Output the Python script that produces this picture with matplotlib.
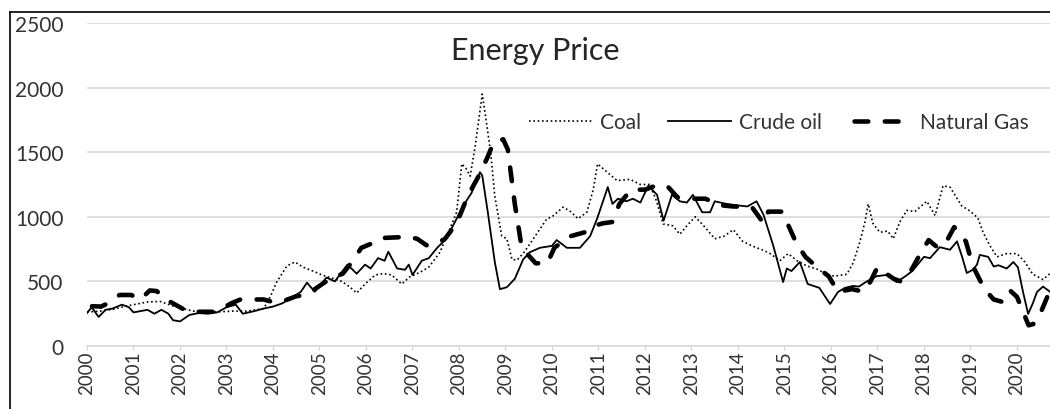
import matplotlib
matplotlib.use('Agg')
from matplotlib import pyplot as plt
from matplotlib.lines import Line2D

plt.rcParams['font.family'] = ['Lato', 'DejaVu Sans']

# ---- data (decimal year, price) ----
coal_t = [2000.0, 2000.28, 2000.57, 2000.86, 2001.29, 2001.57, 2001.85, 2002.28, 2002.5, 2002.86,
          2003.14, 2003.44, 2003.8, 2003.94, 2004.08, 2004.3, 2004.47, 2004.65, 2004.86, 2005.05,
          2005.27, 2005.48, 2005.66, 2005.8, 2005.98, 2006.2, 2006.37, 2006.55, 2006.77, 2006.94,
          2007.16, 2007.35, 2007.59, 2007.8, 2007.95, 2008.06, 2008.15, 2008.24, 2008.35, 2008.5,
          2008.6, 2008.68, 2008.77, 2008.92, 2009.03, 2009.14, 2009.25, 2009.4, 2009.6, 2009.89,
          2010.0, 2010.24, 2010.4, 2010.56, 2010.75, 2010.89, 2010.98, 2011.14, 2011.4, 2011.68,
          2011.9, 2012.1, 2012.25, 2012.39, 2012.6, 2012.75, 2012.9, 2013.08, 2013.29, 2013.5,
          2013.7, 2013.9, 2014.1, 2014.3, 2014.55, 2014.69, 2014.9, 2015.08, 2015.27, 2015.48,
          2015.7, 2015.9, 2016.08, 2016.34, 2016.48, 2016.62, 2016.73, 2016.8, 2016.9, 2017.05,
          2017.22, 2017.34, 2017.48, 2017.63, 2017.8, 2018.06, 2018.24, 2018.41, 2018.56, 2018.68,
          2018.81, 2018.99, 2019.16, 2019.27, 2019.42, 2019.57, 2019.78, 2020.0, 2020.17, 2020.34,
          2020.56, 2020.71]
coal_v = [263, 270, 285, 310, 340, 345, 310, 270, 265, 265,
          270, 270, 290, 380, 495, 620, 650, 610, 580, 550,
          525, 500, 455, 410, 480, 550, 560, 550, 480, 535,
          570, 610, 725, 905, 1035, 1410, 1375, 1315, 1550, 1950,
          1705, 1500, 1160, 850, 830, 670, 665, 725, 830, 985,
          1000, 1075, 1040, 985, 1035, 1215, 1410, 1360, 1280, 1290,
          1250, 1250, 1120, 945, 930, 865, 930, 1000, 920, 830,
          850, 900, 810, 775, 740, 715, 660, 715, 660, 620,
          595, 555, 540, 555, 645, 805, 960, 1100, 950, 880,
          890, 830, 960, 1050, 1040, 1120, 1010, 1240, 1230, 1160,
          1085, 1045, 990, 880, 775, 690, 715, 715, 650, 555,
          515, 560]

oil_t = [2000.0, 2000.1, 2000.25, 2000.4, 2000.55, 2000.75, 2000.9, 2001.0, 2001.15, 2001.3,
         2001.45, 2001.6, 2001.75, 2001.85, 2002.0, 2002.2, 2002.4, 2002.6, 2002.8, 2003.0,
         2003.2, 2003.35, 2003.6, 2003.8, 2004.0, 2004.2, 2004.43, 2004.6, 2004.73, 2004.9,
         2005.15, 2005.33, 2005.6, 2005.8, 2005.98, 2006.1, 2006.26, 2006.4, 2006.48, 2006.67,
         2006.84, 2006.92, 2007.0, 2007.2, 2007.35, 2007.53, 2007.7, 2007.87, 2008.09, 2008.27,
         2008.45, 2008.5, 2008.62, 2008.77, 2008.88, 2009.03, 2009.2, 2009.38, 2009.52, 2009.74,
         2010.0, 2010.1, 2010.32, 2010.6, 2010.82, 2010.97, 2011.2, 2011.3, 2011.42, 2011.6,
         2011.74, 2011.9, 2012.07, 2012.26, 2012.4, 2012.58, 2012.75, 2012.9, 2013.03, 2013.23,
         2013.4, 2013.5, 2013.75, 2013.95, 2014.2, 2014.4, 2014.55, 2014.76, 2014.97, 2015.05,
         2015.15, 2015.33, 2015.5, 2015.75, 2015.98, 2016.15, 2016.3, 2016.47, 2016.6, 2016.77,
         2016.98, 2017.2, 2017.41, 2017.6, 2017.75, 2017.91, 2018.0, 2018.13, 2018.34, 2018.56,
         2018.71, 2018.82, 2018.92, 2019.05, 2019.14, 2019.2, 2019.38, 2019.5, 2019.6, 2019.78,
         2019.92, 2020.02, 2020.13, 2020.24, 2020.34, 2020.43, 2020.56, 2020.71]
oil_v = [255, 300, 225, 280, 290, 320, 300, 260, 270, 280,
         250, 280, 250, 200, 190, 240, 255, 250, 260, 300,
         320, 250, 270, 290, 305, 330, 380, 420, 490, 420,
         530, 500, 630, 560, 630, 600, 680, 660, 730, 600,
         590, 630, 550, 660, 680, 760, 820, 930, 1085, 1185,
         1345, 1320, 1035, 650, 440, 455, 520, 670, 725, 760,
         775, 820, 760, 760, 850, 985, 1230, 1100, 1140, 1120,
         1140, 1110, 1240, 1170, 970, 1170, 1120, 1110, 1170, 1035,
         1035, 1120, 1100, 1090, 1080, 1120, 1015, 775, 495, 600,
         580, 650, 480, 450, 325, 418, 450, 465, 460, 500,
         540, 550, 495, 540, 580, 650, 690, 680, 765, 745,
         810, 690, 565, 590, 630, 705, 690, 615, 625, 600,
         650, 610, 418, 248, 330, 418, 460, 420]

gas_t = [2000.0, 2000.3, 2000.45, 2000.7, 2000.95, 2001.15, 2001.35, 2001.5, 2001.7, 2001.9,
         2002.1, 2002.3, 2002.7, 2002.9, 2003.1, 2003.3, 2003.5, 2003.8, 2004.0, 2004.2,
         2004.5, 2004.7, 2004.9, 2005.1, 2005.3, 2005.5, 2005.7, 2005.9, 2006.1, 2006.3,
         2006.6, 2006.9, 2007.1, 2007.3, 2007.5, 2007.7, 2007.95, 2008.2, 2008.4, 2008.6,
         2008.75, 2008.95, 2009.05, 2009.2, 2009.35, 2009.5, 2009.65, 2009.9, 2010.05, 2010.2,
         2010.4, 2010.7, 2010.9, 2011.1, 2011.3, 2011.45, 2011.7, 2012.0, 2012.3, 2012.5,
         2012.7, 2013.0, 2013.3, 2013.6, 2013.9, 2014.3, 2014.45, 2014.55, 2014.65, 2014.95,
         2015.1, 2015.25, 2015.45, 2015.7, 2015.95, 2016.15, 2016.45, 2016.7, 2016.85, 2017.0,
         2017.15, 2017.35, 2017.5, 2017.7, 2017.9, 2018.1, 2018.3, 2018.5, 2018.65, 2018.9,
         2019.05, 2019.3, 2019.5, 2019.7, 2019.85, 2020.0, 2020.25, 2020.35, 2020.5, 2020.71]
gas_v = [310, 305, 330, 395, 395, 360, 430, 425, 360, 320,
         280, 265, 265, 290, 330, 360, 360, 360, 340, 345,
         385, 395, 440, 490, 530, 560, 650, 760, 790, 835,
         840, 845, 830, 780, 790, 830, 950, 1170, 1300, 1450,
         1580, 1600, 1520, 1100, 760, 700, 640, 640, 760, 800,
         850, 880, 930, 950, 960, 1100, 1210, 1210, 1250, 1230,
         1150, 1140, 1140, 1090, 1080, 1075, 1000, 950, 1040, 1040,
         920, 800, 690, 610, 540, 420, 440, 420, 500, 610,
         570, 520, 500, 570, 700, 820, 760, 820, 920, 810,
         620, 440, 360, 340, 430, 380, 160, 170, 250, 430]

years = list(range(2000, 2021))
y_ticks = [0, 500, 1000, 1500, 2000, 2500]

fig = plt.figure(figsize=(10.5, 4.1), dpi=100)
ax = fig.add_axes([87 / 1050, 63 / 410, 1 - 87 / 1050, 323 / 410])

ax.plot(coal_t, coal_v, color='black', lw=1.2, linestyle=(0, (1, 1.6)), label='Coal')
ax.plot(oil_t, oil_v, color='black', lw=1.3, label='Crude oil')
ax.plot(gas_t, gas_v, color='black', lw=3.3, linestyle=(5.5, (3, 3.6)),
        dash_capstyle='round', label='Natural Gas')

ax.set_xlim(2000, 2020.71)
ax.set_ylim(0, 2500)
ax.set_yticks(y_ticks)
ax.set_xticks(years)
ax.set_xticklabels([str(y) for y in years], rotation=90)
ax.grid(axis='y', color='#d9d9d9', lw=1.2)
ax.set_axisbelow(True)
for s in ['top', 'right', 'left']:
    ax.spines[s].set_visible(False)
ax.spines['bottom'].set_color('#d9d9d9')
ax.spines['bottom'].set_linewidth(1.2)
ax.tick_params(axis='y', length=0, pad=17, labelsize=15, labelcolor='#333333')
ax.tick_params(axis='x', length=3, width=1, color='#d9d9d9', pad=0, labelsize=13.5,
               labelcolor='#333333')

fig.text(535 / 1050, 1 - 51 / 410, 'Energy Price', ha='center', va='center',
         fontsize=22, color='#262626')

ax.legend(loc='center left', bbox_to_anchor=(519 / 1050, 1 - 123 / 410),
          bbox_transform=fig.transFigure, ncol=3, frameon=False, fontsize=15,
          handlelength=3.0, handletextpad=0.4, columnspacing=1.3, borderpad=0,
          labelcolor='#333333')

# frame of the cropped chart (top and left edges)
fig.add_artist(Line2D([10 / 1050, 1], [1 - 13 / 410, 1 - 13 / 410], color='black', lw=1.2))
fig.add_artist(Line2D([10 / 1050, 10 / 1050], [0, 1 - 13 / 410], color='black', lw=1.2))

plt.savefig('out.png', dpi=100)
